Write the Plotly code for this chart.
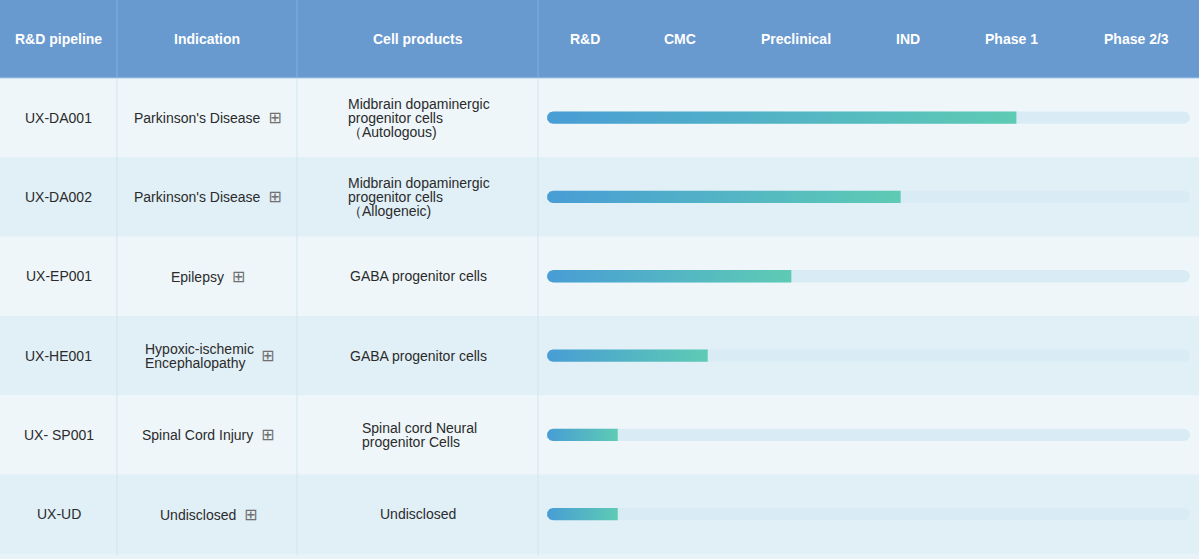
import numpy as np
import plotly.graph_objects as go

# ---------------- data ----------------
pipeline = ["UX-DA001", "UX-DA002", "UX-EP001", "UX-HE001", "UX- SP001", "UX-UD"]
indication = [["Parkinson's Disease"], ["Parkinson's Disease"], ["Epilepsy"],
              ["Hypoxic-ischemic", "Encephalopathy"], ["Spinal Cord Injury"], ["Undisclosed"]]
products = [["Midbrain dopaminergic", "progenitor cells", "（Autologous)"],
            ["Midbrain dopaminergic", "progenitor cells", "（Allogeneic)"],
            ["GABA progenitor cells"],
            ["GABA progenitor cells"],
            ["Spinal cord Neural", "progenitor Cells"],
            ["Undisclosed"]]
progress = [4.38, 3.30, 2.28, 1.50, 0.66, 0.66]      # in stage units (0..6)
stages = ["R&D", "CMC", "Preclinical", "IND", "Phase 1", "Phase 2/3"]
stage_tick = [0.35, 1.24, 2.32, 3.37, 4.33, 5.50]
headers = ["R&D pipeline", "Indication", "Cell products"]

# ---------------- layout constants ----------------
W, H = 1199, 559
HEAD = 78.0
ROWH = 79.3
NROW = len(pipeline)
col_edges = [0, 117, 297, 538]
track_x0, track_x1 = 547, 1190
XMAX = 6.0
px_per_x = (track_x1 - track_x0) / XMAX
px_per_y = ROWH

def py(px):
    return (px - HEAD) / ROWH - 0.5

def xp(px):
    return px / W

y_top = py(0)
y_bot = py(H)

TEXT = "#2b2b2b"
FONT = "Liberation Sans, Arial, sans-serif"
ROW_COLORS = ["#eef6fa", "#e1eff7"]
HEADER_COLOR = "#6899cf"
TRACK = "#d9ebf5"
LINE_SP = 14.0 / ROWH

fig = go.Figure()
shapes = []
ann = []

def add_text(x, y, text, xref="paper", xanchor="center", color=TEXT, bold=False):
    ann.append(dict(xref=xref, yref="y", x=x, y=y, xanchor=xanchor, yanchor="middle",
                    text=("<b>%s</b>" % text) if bold else text, showarrow=False,
                    font=dict(family=FONT, size=14, color=color)))

# header band
shapes.append(dict(type="rect", xref="paper", yref="y", x0=0, x1=1, y0=y_top, y1=-0.5,
                   fillcolor=HEADER_COLOR, line_width=0, layer="below"))
for i in range(NROW):
    shapes.append(dict(type="rect", xref="paper", yref="y", x0=0, x1=1, y0=i - 0.5, y1=i + 0.5,
                       fillcolor=ROW_COLORS[i % 2], line_width=0, layer="below"))
shapes.append(dict(type="line", xref="paper", yref="y", x0=0, x1=1, y0=-0.5, y1=-0.5,
                   line=dict(color="#a6c8e8", width=1), layer="below"))
for e in col_edges[1:]:
    shapes.append(dict(type="line", xref="paper", yref="y", x0=xp(e), x1=xp(e), y0=y_top, y1=-0.5,
                       line=dict(color="#84afdb", width=1), layer="below"))
    shapes.append(dict(type="line", xref="paper", yref="y", x0=xp(e), x1=xp(e), y0=-0.5, y1=py(555),
                       line=dict(color="#d2e5f0", width=1), layer="below"))

# header texts
for k, h in enumerate(headers):
    cx = (col_edges[k] + col_edges[k + 1]) / 2
    add_text(xp(cx), py(39), h, color="white", bold=True)
for s, t in zip(stages, stage_tick):
    add_text(t, py(39), s, xref="x", color="white", bold=True)

ICON = '<span style="font-family:DejaVu Sans;font-size:16px;color:#707070">⊞</span>'

for i in range(NROW):
    add_text(xp(58.5), i, pipeline[i])
    lines = indication[i]
    if len(lines) == 1:
        add_text(xp(208), i, lines[0] + "&nbsp;&nbsp;" + ICON)
    else:
        n = len(lines)
        for j, ln in enumerate(lines):
            add_text(xp(143), i + (j - (n - 1) / 2) * LINE_SP, ln, xanchor="left")
        add_text(xp(267), i, ICON)
    plines = products[i]
    n = len(plines)
    if n == 1:
        add_text(xp(418), i, plines[0])
    else:
        left = 346 if n == 3 else 360
        for j, ln in enumerate(plines):
            add_text(xp(left), i + (j - (n - 1) / 2) * LINE_SP, ln, xanchor="left")

# bars
BAR_H_PX = 12.3
r_px = BAR_H_PX / 2
rx = r_px / px_per_x
ry = r_px / px_per_y
theta = np.linspace(np.pi / 2, 3 * np.pi / 2, 25)

def pill(y, x0, x1, round_left=True, round_right=False):
    xs, ys = [], []
    if round_left:
        xs += list(x0 + rx + rx * np.cos(theta)); ys += list(y - ry * np.sin(theta))
    else:
        xs += [x0, x0]; ys += [y - ry, y + ry]
    if round_right:
        th2 = np.linspace(-np.pi / 2, np.pi / 2, 25)
        xs += list(x1 - rx + rx * np.cos(th2)); ys += list(y - ry * np.sin(th2))
    else:
        xs += [x1, x1]; ys += [y + ry, y - ry]
    xs.append(xs[0]); ys.append(ys[0])
    return xs, ys

for i in range(NROW):
    tx, ty = pill(i, 0, XMAX, True, True)
    fig.add_trace(go.Scatter(x=tx, y=ty, mode="lines", line=dict(width=0), fill="toself",
                             fillcolor=TRACK, hoverinfo="skip", showlegend=False))
for i in range(NROW):
    bx, by = pill(i, 0, progress[i], True, False)
    fig.add_trace(go.Scatter(x=bx, y=by, mode="lines", line=dict(width=0), fill="toself",
                             fillgradient=dict(type="horizontal",
                                               colorscale=[[0, "#489dd5"], [1, "#5ecbb4"]]),
                             hoverinfo="skip", showlegend=False))

fig.update_layout(
    width=W, height=H, margin=dict(l=0, r=0, t=0, b=0),
    paper_bgcolor="#e7f2f9", plot_bgcolor="rgba(0,0,0,0)",
    shapes=shapes, annotations=ann,
    xaxis=dict(domain=[xp(track_x0), xp(track_x1)], range=[0, XMAX], visible=False, fixedrange=True),
    yaxis=dict(range=[y_bot, y_top], visible=False, fixedrange=True),
    showlegend=False,
)
fig.write_html("out.html", config={"displayModeBar": False},
               post_script="document.body.style.margin='0';document.body.style.overflow='hidden';")
